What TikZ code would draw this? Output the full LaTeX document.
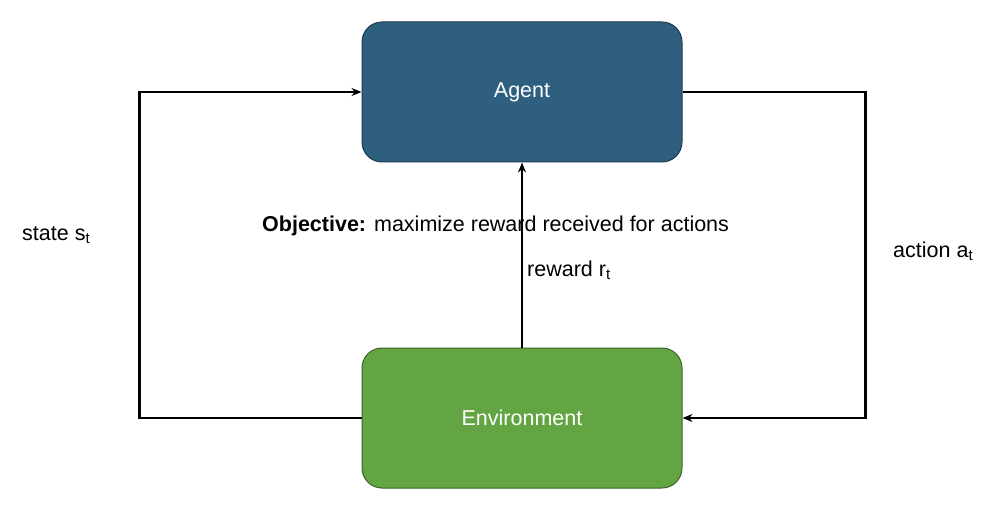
\documentclass[tikz,border=0pt]{standalone}
\usepackage{fontspec}
\setmainfont{Liberation Sans}
\usetikzlibrary{arrows.meta}
\definecolor{agentfill}{HTML}{2E5F7E}
\definecolor{agentdraw}{HTML}{1E3A4E}
\definecolor{envfill}{HTML}{64A543}
\definecolor{envdraw}{HTML}{3A6428}
\begin{document}
\begin{tikzpicture}[x=1pt,y=-1pt,
  box/.style={rounded corners=20pt, minimum width=320pt, minimum height=140pt, line width=1pt, text=white, font=\fontsize{21.5}{25}\selectfont, inner sep=0pt},
  conn/.style={line width=2.4pt, draw=black},
  arr/.style={conn, -{Stealth[length=10pt,width=8pt]}},
  lbl/.style={font=\fontsize{21.5}{25}\selectfont, inner sep=0pt, anchor=west}]
\useasboundingbox (0,0) rectangle (1004,516);
\node[box, fill=agentfill, draw=agentdraw] (agent) at (522,92) {Agent};
\node[box, fill=envfill, draw=envdraw] (env) at (522,418) {Environment};
\node[lbl] (obj) at (262,226) {\textbf{Objective:} maximize reward received for actions};
\node[lbl] (rew) at (527,270) {reward r\textsubscript{t}};
\node[lbl] (state) at (22,235) {state s\textsubscript{t}};
\node[lbl] (act) at (893,251) {action a\textsubscript{t}};
\draw[arr] (env.west) -- ++(-222,0) |- (agent.west);
\draw[arr] (agent.east) -- ++(183,0) |- (env.east);
\draw[arr] (env.north) -- (agent.south);
\end{tikzpicture}
\end{document}
